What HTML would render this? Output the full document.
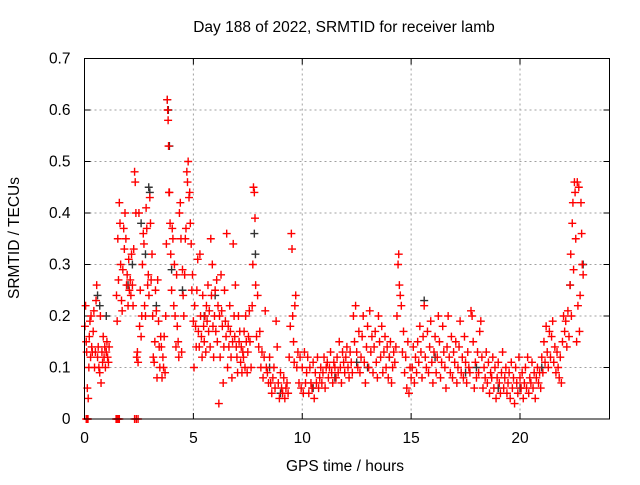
<!DOCTYPE html>
<html><head><meta charset="utf-8"><style>
html,body{margin:0;padding:0;background:#fff;}
svg text{font-family:"Liberation Sans",sans-serif;font-size:15.5px;fill:#000;}
</style></head><body>
<svg id="chart" width="640" height="480" viewBox="0 0 640 480" xmlns="http://www.w3.org/2000/svg">
<rect width="640" height="480" fill="#fff"/>
<g id="grid"></g>
<g id="ticks"></g>
<g id="black-series"></g>
<g id="red-series"></g>
<rect x="84.5" y="58.5" width="525" height="360.5" fill="none" stroke="#000" stroke-width="1"/>
<text x="344" y="32" text-anchor="middle">Day 188 of 2022, SRMTID for receiver lamb</text>
<text x="345" y="471" text-anchor="middle">GPS time / hours</text>
<text x="0" y="0" text-anchor="middle" transform="translate(19,238) rotate(-90)">SRMTID / TECUs</text>
</svg>
<script>
const xTicks=[0,5,10,15,20];
const yTicks=[0,0.1,0.2,0.3,0.4,0.5,0.6,0.7];
const yTickLabels=["0","0.1","0.2","0.3","0.4","0.5","0.6","0.7"];
const redT=[0.02,0.05,0.08,0.1,0.13,0.17,0.2,0.22,0.25,0.28,0.3,0.33,0.36,0.4,0.43,0.46,0.5,0.53,0.56,0.6,0.63,0.66,0.7,0.73,0.76,0.8,0.83,0.86,0.9,0.93,0.96,1.0,1.03,1.06,1.1,1.13,
1.47,1.5,1.53,1.56,1.6,1.63,1.66,1.7,1.73,1.76,1.8,1.83,1.86,1.9,1.93,1.96,2.0,2.03,2.06,2.1,2.13,2.16,2.2,2.23,2.26,2.3,2.33,2.36,2.4,2.43,2.46,2.5,
2.53,2.56,2.6,2.63,2.66,2.7,2.73,2.76,2.8,2.83,2.86,2.9,2.93,2.96,3.0,3.03,3.06,3.1,3.13,3.16,3.2,3.23,3.26,3.3,3.33,3.36,3.4,3.43,3.46,3.5,
3.53,3.56,3.6,3.63,3.66,3.7,3.73,3.76,3.8,3.82,3.84,3.86,3.88,3.9,3.93,3.96,4.0,4.03,4.06,4.1,4.13,4.16,4.2,4.23,4.26,4.3,
4.33,4.36,4.4,4.43,4.46,4.5,4.53,4.56,4.6,4.63,4.66,4.7,4.73,4.76,4.8,4.83,4.86,4.9,4.93,4.96,5.0,5.03,5.06,5.1,5.13,5.16,5.2,
5.23,5.27,5.3,5.33,5.37,5.4,5.43,5.47,5.5,5.53,5.57,5.6,5.63,5.67,5.7,5.73,5.77,5.8,5.83,5.87,5.9,5.93,5.97,6.0,6.03,6.07,6.1,6.13,6.17,6.2,6.23,6.27,6.3,6.33,6.37,6.4,6.43,6.47,6.5,6.53,6.57,6.6,6.63,6.67,6.7,6.73,6.77,6.8,6.83,6.87,6.9,6.93,6.97,7.0,7.03,7.07,7.1,7.13,7.17,7.2,7.23,7.27,7.3,7.33,7.37,7.4,7.43,7.47,7.5,7.53,7.57,
7.6,7.65,7.7,7.73,7.76,7.8,7.83,7.86,7.9,7.95,8.0,8.05,8.1,8.15,8.2,8.25,8.3,8.35,8.4,8.45,8.5,8.55,8.6,8.65,8.7,8.75,8.8,8.85,8.9,8.95,9.0,9.05,9.1,9.15,9.2,9.25,9.3,9.35,
9.4,9.45,9.5,9.53,9.56,9.6,9.63,9.66,9.7,9.75,9.8,9.85,9.9,9.95,10.0,
10.05,10.1,10.15,10.2,10.25,10.3,10.35,10.4,10.45,10.5,10.55,10.6,10.65,10.7,10.75,10.8,10.85,10.9,10.95,11.0,11.05,11.1,11.15,11.2,11.25,11.3,11.35,11.4,11.45,11.5,11.55,11.6,11.65,11.7,11.75,11.8,11.85,11.9,11.95,12.0,12.05,12.1,12.15,12.2,12.25,
12.3,12.35,12.4,12.45,12.5,12.55,12.6,12.65,12.7,12.75,12.8,12.85,12.9,12.95,13.0,13.05,13.1,13.15,13.2,13.25,13.3,13.35,13.4,13.45,13.5,13.55,13.6,13.65,13.7,13.75,13.8,13.85,13.9,13.95,14.0,14.05,14.1,14.15,14.2,14.25,
14.3,14.35,14.4,14.43,14.46,14.5,14.55,14.6,14.65,14.7,14.75,14.8,14.85,14.9,14.95,15.0,
15.05,15.1,15.15,15.2,15.25,15.3,15.35,15.4,15.45,15.5,15.55,15.6,15.65,15.7,15.75,15.8,15.85,15.9,15.95,16.0,16.05,16.1,16.15,16.2,16.25,16.3,16.35,16.4,16.45,16.5,16.55,16.6,16.65,16.7,16.75,16.8,16.85,16.9,16.95,17.0,17.05,17.1,17.15,17.2,17.25,17.3,17.35,17.4,17.45,17.5,17.55,17.6,17.65,17.7,17.75,17.8,17.85,17.9,17.95,18.0,18.05,18.1,18.15,18.2,18.25,18.3,18.35,18.4,18.45,
18.5,18.55,18.6,18.65,18.7,18.75,18.8,18.85,18.9,18.95,19.0,19.05,19.1,19.15,19.2,19.25,19.3,19.35,19.4,19.45,19.5,19.55,19.6,19.65,19.7,19.75,19.8,19.85,19.9,19.95,20.0,20.05,20.1,20.15,20.2,20.25,20.3,20.35,20.4,20.45,20.5,20.55,20.6,20.65,20.7,20.75,20.8,20.85,20.9,20.95,
21.0,21.05,21.1,21.15,21.2,21.25,21.3,21.35,21.4,21.45,21.5,21.55,21.6,21.65,21.7,21.75,21.8,21.85,21.9,21.95,22.0,22.05,22.1,22.15,22.2,22.25,
22.3,22.33,22.36,22.4,22.43,22.46,22.5,22.53,22.56,22.6,22.63,22.66,22.7,22.73,22.76,22.8,22.83,22.86,22.9,
0.08,0.12,0.16,1.45,1.5,1.55,1.6,2.3,2.38,2.46];
const redV=[.18,.22,.15,.13,.06,.04,.1,.16,.19,.12,.2,.14,.13,.17,.21,.1,.13,.23,.26,.12,.14,.1,.09,.2,.07,.13,.11,.16,.12,.14,.1,.13,.15,.12,.11,.14,
.24,.19,.35,.27,.42,.38,.3,.23,.21,.29,.37,.33,.4,.35,.26,.28,.22,.31,.25,.27,.24,.32,.26,.22,.33,.48,.46,.4,.12,.13,.11,.4,
.18,.25,.16,.2,.3,.36,.34,.22,.2,.41,.37,.26,.28,.24,.43,.38,.27,.32,.2,.12,.11,.15,.25,.21,.08,.27,.19,.14,.1,.16,
.14,.08,.12,.1,.16,.09,.2,.34,.62,.6,.58,.53,.44,.44,.38,.32,.25,.37,.35,.22,.3,.2,.14,.28,.18,.15,
.12,.4,.42,.35,.13,.29,.24,.2,.28,.35,.37,.48,.46,.5,.43,.44,.38,.34,.25,.28,.19,.1,.22,.18,.14,.25,.31,
.17,.14,.32,.2,.16,.12,.24,.18,.15,.2,.13,.22,.19,.26,.17,.21,.14,.35,.24,.3,.18,.12,.2,.25,.17,.27,.15,.22,.03,.2,.12,.28,.21,.18,.07,.14,.25,.19,.16,.36,.1,.18,.14,.22,.17,.12,.08,.15,.34,.2,.16,.26,.14,.12,.09,.2,.15,.17,.11,.14,.09,.13,.12,.17,.1,.2,.15,.09,.13,.16,.21,
.15,.1,.22,.3,.45,.44,.39,.26,.16,.24,.14,.17,.1,.13,.08,.12,.21,.1,.09,.07,.12,.07,.05,.08,.1,.06,.19,.14,.07,.04,.09,.06,.05,.08,.04,.06,.07,.05,
.12,.18,.36,.33,.2,.15,.11,.22,.24,.1,.13,.07,.12,.06,.1,
.05,.13,.07,.09,.12,.05,.1,.07,.06,.11,.04,.09,.07,.12,.06,.08,.1,.07,.09,.12,.06,.1,.11,.08,.1,.13,.09,.07,.11,.1,.08,.12,.09,.15,.1,.07,.13,.11,.09,.12,.14,.1,.08,.13,.11,
.09,.2,.15,.22,.13,.1,.17,.09,.12,.16,.2,.11,.07,.14,.18,.1,.21,.13,.16,.09,.14,.17,.11,.08,.2,.15,.12,.18,.09,.13,.16,.1,.14,.08,.12,.15,.07,.1,.13,.11,
.14,.2,.3,.32,.26,.24,.22,.13,.17,.09,.12,.06,.15,.05,.1,.08,
.1,.14,.07,.12,.09,.15,.11,.18,.13,.08,.16,.22,.12,.1,.17,.09,.14,.19,.11,.07,.13,.16,.09,.12,.2,.15,.08,.11,.18,.13,.1,.06,.14,.2,.12,.09,.16,.08,.13,.11,.15,.07,.1,.14,.19,.09,.12,.08,.16,.11,.07,.13,.1,.09,.21,.2,.15,.06,.11,.08,.13,.09,.17,.19,.12,.06,.1,.08,.13,
.07,.11,.05,.09,.08,.12,.06,.1,.04,.08,.11,.07,.05,.09,.13,.06,.08,.1,.05,.07,.09,.04,.11,.06,.08,.03,.1,.07,.05,.12,.08,.06,.09,.04,.07,.1,.06,.12,.05,.08,.07,.11,.06,.09,.04,.08,.1,.07,.09,.06,
.12,.09,.15,.11,.18,.13,.1,.17,.12,.16,.19,.11,.14,.09,.13,.1,.08,.12,.07,.15,.2,.17,.19,.14,.21,.16,
.26,.32,.2,.38,.42,.29,.46,.44,.35,.15,.46,.22,.45,.17,.24,.42,.36,.3,.28,
0,0,0,0,0,0,0,0,0,0];
const blackT=[0.6,0.7,1.0,2.0,2.2,2.6,2.8,2.95,3.0,3.3,3.8,3.85,3.9,4.0,4.5,5.5,6.0,7.8,7.85,8.5,9.0,10.5,11.5,12.5,13.0,14.0,15.6,16.1,17.5,18.0,19.0,20.0,21.0,22.3,22.9];
const blackV=[.24,.22,.2,.26,.3,.38,.32,.45,.44,.22,.62,.6,.53,.29,.25,.2,.24,.36,.32,.1,.05,.06,.08,.11,.1,.12,.23,.12,.09,.1,.06,.06,.1,.26,.3];

const NS='http://www.w3.org/2000/svg';
const L=84.5,R=609.5,T=58.5,B=419;
const xMax=24.11,yMax=0.7;
function xs(v){return L+v/xMax*(R-L);}
function ys(v){return B-v/yMax*(B-T);}
function mk(tag,attrs,parent){const e=document.createElementNS(NS,tag);for(const k in attrs)e.setAttribute(k,attrs[k]);parent.appendChild(e);return e;}
const grid=document.getElementById('grid'),ticks=document.getElementById('ticks');
xTicks.forEach(function(t){
  const x=xs(t);
  if(t>0){const g=mk('line',{x1:x,y1:T,x2:x,y2:B,stroke:'#a0a0a0','stroke-dasharray':'2,3'},grid);
  
  }
  const a=mk('line',{x1:x,y1:B,x2:x,y2:B-6,stroke:'#000'},ticks);
  
  
  const b=mk('line',{x1:x,y1:T,x2:x,y2:T+6,stroke:'#000'},ticks);
  
  
  const tx=mk('text',{x:x,y:B+24,'text-anchor':'middle'},ticks);tx.textContent=String(t);
  
  
});
yTicks.forEach(function(t,i){
  const y=ys(t);
  if(t>0&&t<yMax){const g=mk('line',{x1:L,y1:y,x2:R,y2:y,stroke:'#a0a0a0','stroke-dasharray':'2,3'},grid);
  
  }
  const a=mk('line',{x1:L,y1:y,x2:L+6,y2:y,stroke:'#000'},ticks);
  
  
  const b=mk('line',{x1:R,y1:y,x2:R-6,y2:y,stroke:'#000'},ticks);
  
  
  const tx=mk('text',{x:L-14,y:y+5,'text-anchor':'end'},ticks);tx.textContent=yTickLabels[i];
  
  
});
function plus(g,t,v,color,name){
  const x=xs(t),y=ys(v);
  const p=mk('path',{d:'M'+(x-4)+' '+y+'H'+(x+4)+'M'+x+' '+(y-4)+'V'+(y+4),stroke:color,'stroke-width':1.4,fill:'none'},g);
  
  
}
const bg=document.getElementById('black-series'),rg=document.getElementById('red-series');
blackT.forEach(function(t,i){plus(bg,t,blackV[i],'#333','black-point');});
redT.forEach(function(t,i){plus(rg,t,redV[i],'#ff0000','red-point');});
</script>
</body></html>
